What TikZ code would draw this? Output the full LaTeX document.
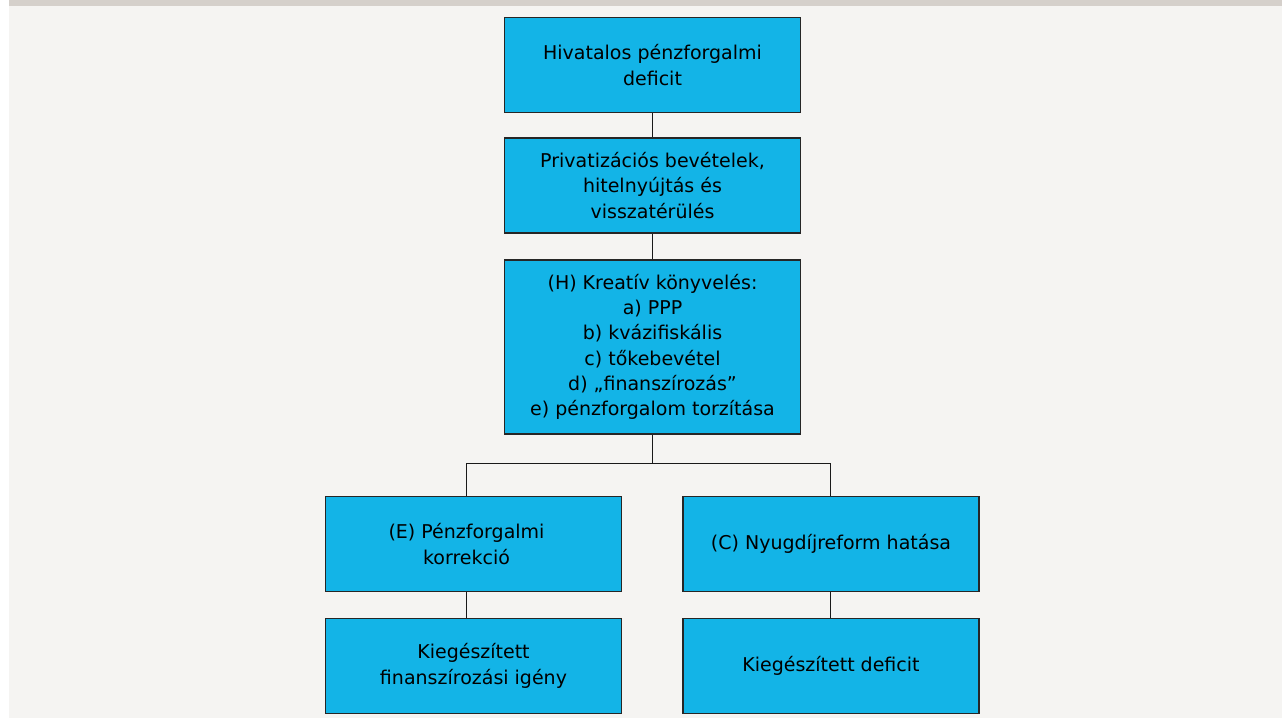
\documentclass[tikz,border=0pt]{standalone}
\usepackage{fontspec}
\setmainfont{DejaVu Sans}
\usepackage{tikz}

\definecolor{boxcyan}{HTML}{13B4E7}
\definecolor{pagebg}{HTML}{F5F4F2}
\definecolor{topbar}{HTML}{D5D0CB}

\tikzset{
  blockbox/.style={draw=black!85, line width=1.6pt, fill=boxcyan,
    minimum width=296pt, minimum height=95pt, align=center, inner sep=0pt,
    font=\fontsize{19}{25.3}\selectfont},
  tallbox/.style={blockbox, minimum height=174pt},
  link/.style={line width=1.4pt, black!90}
}

\begin{document}
\begin{tikzpicture}[x=1pt,y=-1pt]
        % page background
        \useasboundingbox (0,0) rectangle (1282,718) ;
        \fill[white] (0,0) rectangle (1282,718) ;
        \fill[pagebg] (9,0) rectangle (1282,718) ;
        \fill[topbar] (9,0) rectangle (1282,6) ;

        % main column
        \node[blockbox] (hivatalos) at (652.5,65) {Hivatalos pénzforgalmi\\deficit} ;
        \node[blockbox] (privat) at (652.5,185.5) {Privatizációs bevételek,\\hitelnyújtás és\\visszatérülés} ;
        \node[tallbox] (kreativ) at (652.5,347) {(H) Kreatív könyvelés:\\a) PPP\\b) kvázifiskális\\c) tőkebevétel\\d) „finanszírozás”\\e) pénzforgalom torzítása} ;

        % two branches
        \node[blockbox] (korrekcio) at (473.5,544) {} ;
        \node[align=center, font=\fontsize{19}{25.3}\selectfont] (korrekciotext) at (466.5,544) {(E) Pénzforgalmi\\korrekció} ;
        \node[blockbox] (nyugdij) at (831,544) {(C) Nyugdíjreform hatása} ;
        \node[blockbox] (igeny) at (473.5,666) {Kiegészített\\finanszírozási igény} ;
        \node[blockbox] (kiegdef) at (831,666) {Kiegészített deficit} ;

        \coordinate (legE) at (466.5,463.5) ;
        \coordinate (legC) at (830.5,463.5) ;
        \coordinate (split) at (kreativ.south |- legE) ;

        \draw[link] (hivatalos.south) -- (privat.north) ;
        \draw[link] (privat.south) -- (kreativ.north) ;
        \draw[link] (kreativ.south) -- (split) ;
        \draw[link] (legE |- korrekcio.north) -- (legE) -- (legC) -- (legC |- nyugdij.north) ;
        \draw[link] (legE |- korrekcio.south) -- (legE |- igeny.north) ;
        \draw[link] (legC |- nyugdij.south) -- (legC |- kiegdef.north) ;
    \end{tikzpicture}
\end{document}
